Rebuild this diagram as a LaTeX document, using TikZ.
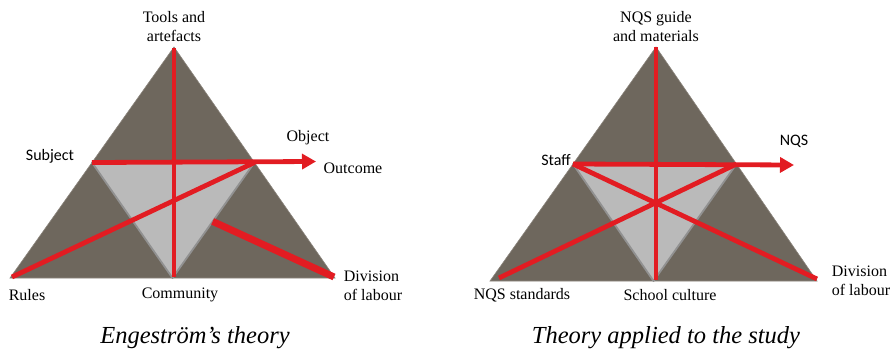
\documentclass[tikz,border=0pt]{standalone}
\usepackage{fontspec}
\setmainfont{Liberation Serif}
\newfontfamily\calib{Carlito}
\usetikzlibrary{arrows.meta,calc}
\definecolor{outerfill}{RGB}{110,103,93}
\definecolor{innerfill}{RGB}{186,186,186}
\definecolor{innerline}{RGB}{145,145,145}
\definecolor{redline}{RGB}{226,28,34}
\tikzset{
  outertri/.style={fill=outerfill, draw=outerfill!80!white, line width=0.6pt},
  innertri/.style={fill=innerfill, draw=innerline, line width=1.8pt, line join=round},
  redl/.style={draw=redline, line width=4.8pt},
  redthick/.style={draw=redline, line width=7pt},
  redarrow/.style={draw=redline, line width=4.8pt, -{Triangle[length=14pt,width=15pt]}},
  serlab/.style={font=\fontsize{16}{19}\selectfont, inner sep=0pt, align=center},
  sanlab/.style={font=\calib\fontsize{16}{19}\selectfont, inner sep=0pt},
  caption/.style={font=\itshape\fontsize{24.5}{28}\selectfont, inner sep=0pt}
}
\begin{document}
\begin{tikzpicture}[x=1pt,y=-1pt]
\useasboundingbox (0,0) rectangle (894,351);
% ---------- left diagram ----------
\coordinate (A1) at (174,47);
\coordinate (L1) at (10,278);
\coordinate (R1) at (335,278);
\coordinate (S1) at ($(A1)!0.5!(L1)$);
\coordinate (O1) at ($(A1)!0.5!(R1)$);
\coordinate (C1) at ($(L1)!0.5!(R1)$);
\fill[outertri] (A1) -- (L1) -- (R1) -- cycle;
\draw[innertri] (S1) -- (O1) -- (C1) -- cycle;
\coordinate (T1) at (316,161.5);
\coordinate (D1s) at ($(O1)!0.51!(C1)$);
\coordinate (L1e) at (12,277);
\coordinate (R1e) at (334,277);
\coordinate (V1t) at (174,48);
\coordinate (V1b) at (174,277);
\draw[redl] (V1t) -- (V1b);
\draw[redarrow] (S1) -- (T1);
\draw[redl] (L1e) -- (O1);
\draw[redthick] (D1s) -- (R1e);
\node[serlab] (tools) at (174,27) {Tools and\\artefacts};
\node[sanlab] (subj) at (50,156) {Subject};
\node[serlab] (obj) at (308,138) {Object};
\node[serlab] (outc) at (353,168) {Outcome};
\node[serlab] (rules) at (27,295) {Rules};
\node[serlab] (comm) at (180,295) {Community};
\node[serlab, align=left] (div1) at (373,286) {Division\\of labour};
\node[caption] (cap1) at (195,338) {Engestr\"om’s theory};
% ---------- right diagram ----------
\coordinate (A2) at (656,47);
\coordinate (L2) at (490,281);
\coordinate (R2) at (817,281);
\coordinate (S2) at ($(A2)!0.5!(L2)$);
\coordinate (O2) at ($(A2)!0.5!(R2)$);
\coordinate (C2) at ($(L2)!0.5!(R2)$);
\fill[outertri] (A2) -- (L2) -- (R2) -- cycle;
\draw[innertri] (S2) -- (O2) -- (C2) -- cycle;
\coordinate (T2) at (794,165);
\coordinate (L2e) at (499,278);
\coordinate (R2e) at (817,279);
\coordinate (V2t) at (656,47);
\coordinate (V2b) at (656,280);
\draw[redl] (V2t) -- (V2b);
\draw[redarrow] (S2) -- (T2);
\draw[redl] (L2e) -- (O2);
\draw[redl] (S2) -- (R2e);
\node[serlab] (nqsg) at (656,27) {NQS guide\\and materials};
\node[sanlab] (staff) at (556,160) {Staff};
\node[sanlab] (nqs) at (794,141) {NQS};
\node[serlab] (nqss) at (522,295) {NQS standards};
\node[serlab] (school) at (670,295) {School culture};
\node[serlab, align=left] (div2) at (861,281) {Division\\of labour};
\node[caption] (cap2) at (666,338) {Theory applied to the study};
\end{tikzpicture}
\end{document}
